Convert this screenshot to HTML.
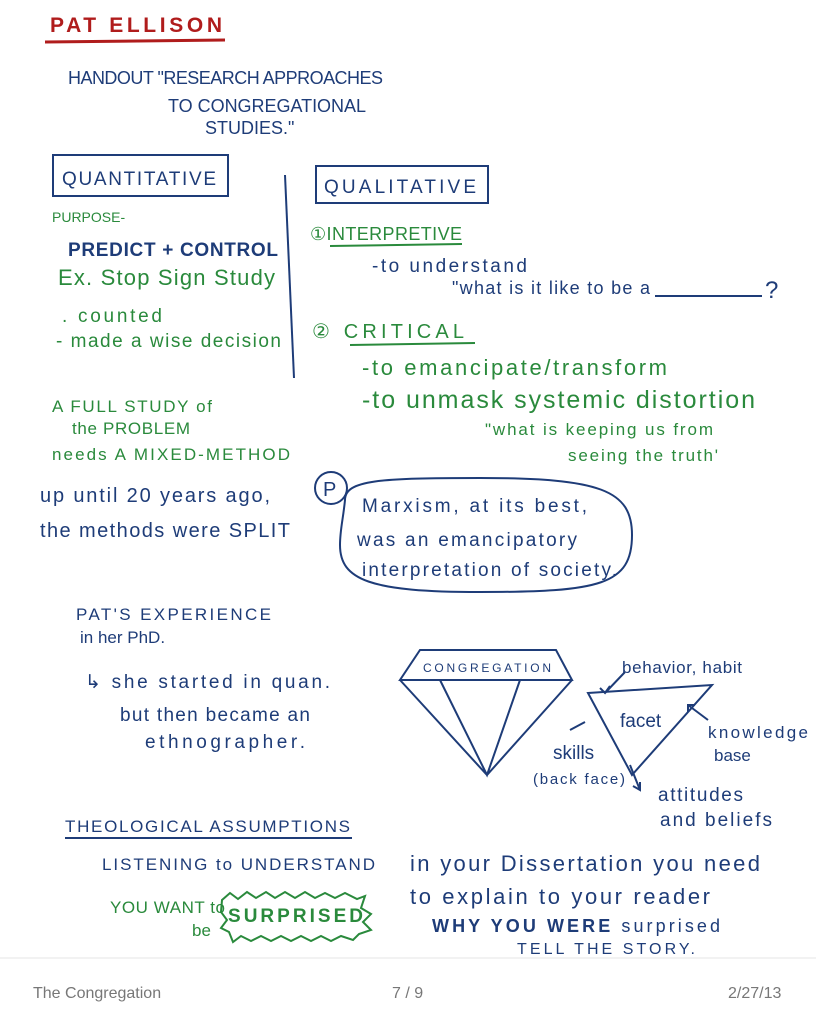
<!DOCTYPE html>
<html><head><meta charset="utf-8"><style>
html,body{margin:0;padding:0;background:#fff;}
svg{display:block}
text{font-family:"Liberation Sans",sans-serif;}
.b{fill:#1e3c78}.g{fill:#2a8a3c}.r{fill:#b01c1c}
.sb{stroke:#1e3c78;fill:none;stroke-width:2}
.sg{stroke:#2a8a3c;fill:none;stroke-width:2}
</style></head><body>
<svg width="816" height="1024" viewBox="0 0 816 1024">
<rect width="816" height="1024" fill="#fff"/>
<text x="50" y="32" class="r" font-size="21" font-weight="bold" textLength="172">PAT ELLISON</text>
<line x1="45" y1="42" x2="225" y2="40" stroke="#b01c1c" stroke-width="3"/>

<text x="68" y="84" class="b" font-size="18" textLength="315">HANDOUT "RESEARCH APPROACHES</text>
<text x="168" y="112" class="b" font-size="18" textLength="198">TO CONGREGATIONAL</text>
<text x="205" y="134" class="b" font-size="18">STUDIES."</text>

<rect x="53" y="155" width="175" height="41" class="sb"/>
<text x="62" y="185" class="b" font-size="19" textLength="154">QUANTITATIVE</text>
<line x1="285" y1="175" x2="294" y2="378" class="sb"/>
<rect x="316" y="166" width="172" height="37" class="sb"/>
<text x="324" y="193" class="b" font-size="19" textLength="152">QUALITATIVE</text>

<text x="52" y="222" class="g" font-size="14">PURPOSE-</text>
<text x="68" y="256" class="b" font-size="19" font-weight="bold" textLength="210">PREDICT + CONTROL</text>
<text x="58" y="285" class="g" font-size="22" textLength="217">Ex. Stop Sign Study</text>
<text x="62" y="322" class="g" font-size="19" textLength="100">. counted</text>
<text x="56" y="347" class="g" font-size="19" textLength="225">- made a wise decision</text>

<text x="310" y="240" class="g" font-size="18" textLength="152">①INTERPRETIVE</text>
<line x1="330" y1="246" x2="462" y2="244" class="sg"/>
<text x="372" y="272" class="b" font-size="19" textLength="155">-to understand</text>
<text x="452" y="294" class="b" font-size="18" textLength="198">"what is it like to be a</text>
<line x1="655" y1="296" x2="762" y2="296" class="sb"/>
<text x="765" y="298" class="b" font-size="24">?</text>

<text x="312" y="338" class="g" font-size="20" textLength="152">② CRITICAL</text>
<line x1="350" y1="345" x2="475" y2="343" class="sg"/>
<text x="362" y="375" class="g" font-size="22" textLength="305">-to emancipate/transform</text>
<text x="362" y="408" class="g" font-size="25" textLength="393">-to unmask systemic distortion</text>
<text x="485" y="435" class="g" font-size="17" textLength="228">"what is keeping us from</text>
<text x="568" y="461" class="g" font-size="17" textLength="150">seeing the truth'</text>

<text x="52" y="412" class="g" font-size="17" textLength="160">A FULL STUDY of</text>
<text x="72" y="434" class="g" font-size="17" textLength="118">the PROBLEM</text>
<text x="52" y="460" class="g" font-size="17" textLength="238">needs A MIXED-METHOD</text>

<text x="40" y="502" class="b" font-size="20" textLength="230">up until 20 years ago,</text>
<text x="40" y="537" class="b" font-size="20" textLength="250">the methods were SPLIT</text>

<circle cx="331" cy="488" r="16" class="sb"/>
<text x="323" y="496" class="b" font-size="20">P</text>
<path d="M345 500 C345 480,380 478,480 478 C600 478,632 490,632 535 C632 585,600 592,480 592 C370 592,340 580,340 545 C340 530,343 520,345 500 Z" class="sb"/>
<text x="362" y="512" class="b" font-size="19" textLength="225">Marxism, at its best,</text>
<text x="357" y="546" class="b" font-size="19" textLength="220">was an emancipatory</text>
<text x="362" y="576" class="b" font-size="19" textLength="255">interpretation of society.</text>

<text x="76" y="620" class="b" font-size="17" textLength="195">PAT'S EXPERIENCE</text>
<text x="80" y="643" class="b" font-size="17">in her PhD.</text>
<text x="85" y="688" class="b" font-size="19" textLength="245">↳ she started in quan.</text>
<text x="120" y="721" class="b" font-size="19" textLength="190">but then became an</text>
<text x="145" y="748" class="b" font-size="19" textLength="160">ethnographer.</text>

<path d="M420 650 L556 650 L572 680 L400 680 Z M400 680 L487 775 L572 680 M440 680 L487 775 L520 680" class="sb"/>
<text x="423" y="672" class="b" font-size="12" textLength="128">CONGREGATION</text>

<path d="M588 693 L712 685 L632 775 Z" class="sb"/>
<path d="M625 672 L605 693 M600 688 L605 693 L610 686 M708 720 L688 705 M688 712 L688 705 L695 705 M585 722 L570 730 M630 765 L640 790 M640 782 L640 790 L633 786" class="sb" stroke-width="1.5"/>
<text x="620" y="727" class="b" font-size="19">facet</text>
<text x="622" y="673" class="b" font-size="17" textLength="120">behavior, habit</text>
<text x="708" y="738" class="b" font-size="17" textLength="100">knowledge</text>
<text x="714" y="761" class="b" font-size="17">base</text>
<text x="553" y="759" class="b" font-size="19">skills</text>
<text x="533" y="784" class="b" font-size="15" textLength="92">(back face)</text>
<text x="658" y="801" class="b" font-size="19" textLength="85">attitudes</text>
<text x="660" y="826" class="b" font-size="19" textLength="112">and beliefs</text>

<text x="65" y="832" class="b" font-size="17" textLength="285">THEOLOGICAL ASSUMPTIONS</text>
<line x1="65" y1="838" x2="352" y2="838" class="sb"/>
<text x="102" y="870" class="b" font-size="17" textLength="273">LISTENING to UNDERSTAND</text>
<text x="110" y="913" class="g" font-size="17" textLength="115">YOU WANT to</text>
<text x="192" y="936" class="g" font-size="17">be</text>
<path d="M222 900 l8 -7 l8 6 l9 -7 l9 6 l10 -6 l9 6 l10 -6 l10 6 l10 -6 l10 6 l10 -5 l10 5 l10 -5 l12 6 l8 -3 l-4 12 l10 6 l-8 8 l8 8 l-12 4 l-6 6 l-12 -4 l-10 5 l-10 -5 l-10 5 l-10 -5 l-10 5 l-10 -5 l-10 5 l-10 -5 l-10 5 l-10 -5 l-8 6 l-4 -10 l-8 -4 l6 -8 l-6 -8 Z" class="sg"/>
<text x="228" y="922" class="g" font-size="19" font-weight="bold" textLength="135">SURPRISED</text>

<text x="410" y="871" class="b" font-size="22" textLength="350">in your Dissertation you need</text>
<text x="410" y="904" class="b" font-size="22" textLength="300">to explain to your reader</text>
<text x="432" y="932" class="b" font-size="18" font-weight="bold" textLength="288">WHY YOU WERE <tspan font-weight="normal">surprised</tspan></text>
<text x="517" y="954" class="b" font-size="16" textLength="178">TELL THE STORY.</text>

<line x1="0" y1="958" x2="816" y2="958" stroke="#e6e6e6" stroke-width="1"/>
<text x="33" y="998" fill="#777" font-size="16">The Congregation</text>
<text x="392" y="998" fill="#777" font-size="16">7 / 9</text>
<text x="728" y="998" fill="#777" font-size="16">2/27/13</text>
</svg>
</body></html>
